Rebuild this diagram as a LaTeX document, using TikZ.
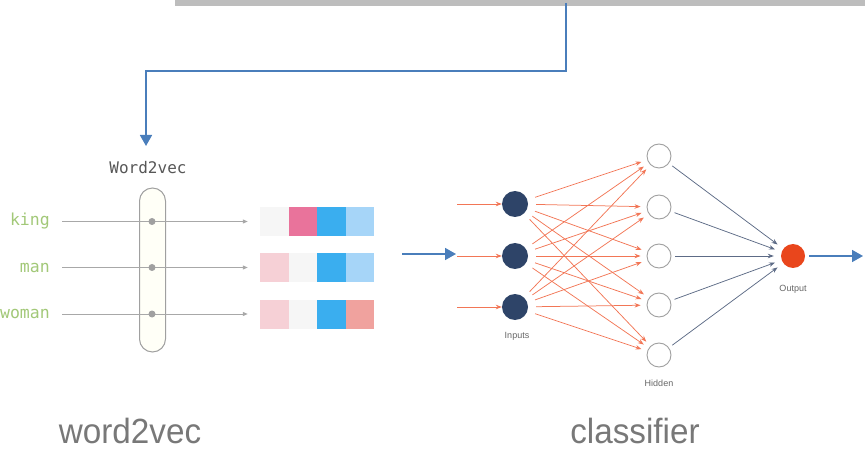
\documentclass[tikz,border=0pt]{standalone}
\usepackage{fontspec}
\setmainfont{Liberation Sans}
\newfontfamily\monofont{DejaVu Sans Mono}
\newfontfamily\capfont[FakeStretch=0.95]{Liberation Sans}
\usetikzlibrary{arrows.meta}

\definecolor{linkblue}{HTML}{4A7EBB}
\definecolor{bargray}{HTML}{BDBDBD}
\definecolor{wordgreen}{HTML}{A2C878}
\definecolor{rulegray}{HTML}{A8A8A8}
\definecolor{navy}{HTML}{2E4468}
\definecolor{synapse}{HTML}{F27656}
\definecolor{outedge}{HTML}{5D6B86}
\definecolor{outnode}{HTML}{E9461C}
\definecolor{ringgray}{HTML}{A0A0A0}
\definecolor{cellwhite}{HTML}{F6F6F6}
\definecolor{pinkhot}{HTML}{E9739B}
\definecolor{bluemid}{HTML}{3AAEEF}
\definecolor{bluelight}{HTML}{A6D5F8}
\definecolor{pinkpale}{HTML}{F6D0D6}
\definecolor{salmon}{HTML}{F0A29E}

\tikzset{
  link/.style={draw=linkblue, line width=1.7pt, -{Triangle[length=11pt,width=12pt]}},
  wordlbl/.style={font=\monofont\fontsize{16.5}{16.5}\selectfont, text=wordgreen, inner sep=0pt, anchor=east},
  wline/.style={draw=rulegray, line width=1pt, -{Triangle[length=5pt,width=4pt]}},
  hub/.style={circle, fill=ringgray, inner sep=0pt, minimum size=7pt},
  cell/.style={rectangle, inner sep=0pt, minimum width=28.5pt, minimum height=29pt},
  inunit/.style={circle, fill=navy, inner sep=0pt, minimum size=26pt},
  hidunit/.style={circle, draw=ringgray, fill=white, line width=0.9pt, inner sep=0pt, minimum size=24pt},
  outunit/.style={circle, fill=outnode, inner sep=0pt, minimum size=24pt},
  syn/.style={draw=synapse, line width=0.75pt, -{Stealth[length=6pt,width=4.5pt]}},
  outsyn/.style={draw=outedge, line width=0.75pt, -{Stealth[length=6pt,width=4.5pt]}},
  nnlbl/.style={font=\fontsize{9}{9}\selectfont, text=black!60},
  caption/.style={font=\capfont\fontsize{35}{35}\selectfont, text=black!53, anchor=base, inner sep=0pt}
}

\begin{document}
\begin{tikzpicture}[x=1pt,y=-1pt]
\useasboundingbox (0,0) rectangle (865,449);

% grey bar along the top
\node[fill=bargray, inner sep=0pt, minimum width=690pt, minimum height=6pt, anchor=north west] (bar) at (175,0) {};

% elbow connector from the bar down to Word2vec
\coordinate (src) at (566,3);
\coordinate (bend) at (566,71);
\coordinate (w2vin) at (146,146);
\draw[link] (src) -- (bend) -| (w2vin);

% Word2vec block
\node[font=\monofont\fontsize{16}{16}\selectfont, text=black!66] (w2vtitle) at (148,168) {Word2vec};
\node[draw=ringgray, fill=white!97!yellow, line width=1pt, rounded corners=13pt,
      minimum width=26pt, minimum height=164pt, inner sep=0pt] (capsule) at (152.5,270) {};

% words, hubs and embedding vectors
\foreach \nm/\word/\y/\ca/\cb/\cc/\cd in {K/king/221.5/cellwhite/pinkhot/bluemid/bluelight,
                                       M/man/267.5/pinkpale/cellwhite/bluemid/bluelight,
                                       W/woman/314/pinkpale/cellwhite/bluemid/salmon}{
  \node[wordlbl] (w\nm) at (50,\y) {\word};
  \node[cell, fill=\ca] (v\nm1) at (274.25,\y) {};
  \node[cell, fill=\cb] (v\nm2) at (302.75,\y) {};
  \node[cell, fill=\cc] (v\nm3) at (331.25,\y) {};
  \node[cell, fill=\cd] (v\nm4) at (359.75,\y) {};
  \draw[wline, shorten <=12pt, shorten >=12pt] (w\nm.east) -- (v\nm1.west);
  \node[hub] (h\nm) at (152,\y) {};
}

% link from the vectors into the classifier
\coordinate (vecout) at (402,254);
\coordinate (nnin) at (456,254);
\draw[link] (vecout) -- (nnin);

% classifier network
\foreach \i/\y in {1/204,2/256,3/307}{
  \node[inunit] (I\i) at (515,\y) {};
  \coordinate (feed\i) at (457,\y);
  \draw[syn] (feed\i) -- (I\i);
}
\foreach \j/\y in {1/156,2/207,3/256,4/305,5/355}{
  \node[hidunit] (H\j) at (659,\y) {};
}
\node[outunit] (O) at (793,256) {};

\foreach \i in {1,2,3}{
  \foreach \j in {1,...,5}{
    \draw[syn, shorten <=8pt, shorten >=6pt] (I\i) -- (H\j);
  }
}
\foreach \j in {1,...,5}{
  \draw[outsyn, shorten <=4pt, shorten >=7pt] (H\j) -- (O);
}

\node[nnlbl] (lblin) at (517,336) {Inputs};
\node[nnlbl] (lblhid) at (659,383) {Hidden};
\node[nnlbl] (lblout) at (793,289) {Output};

\coordinate (nnout) at (863,256);
\draw[link, shorten <=4pt] (O) -- (nnout);

% captions
\node[caption] (cap1) at (130,443) {word2vec};
\node[caption] (cap2) at (635,443) {classifier};
\end{tikzpicture}
\end{document}
